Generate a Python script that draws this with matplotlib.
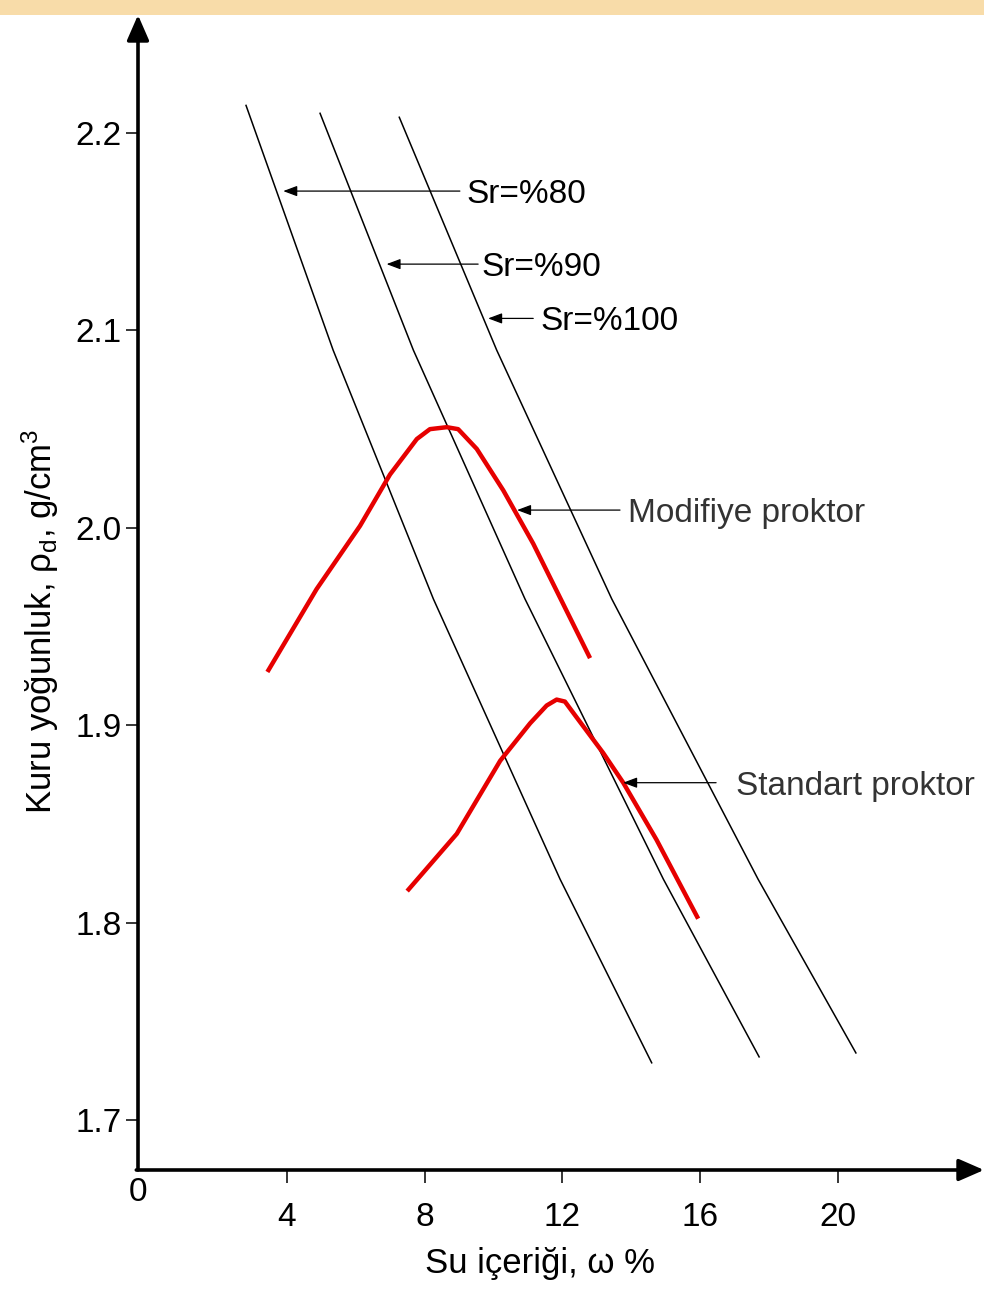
import matplotlib
matplotlib.use("Agg")
import matplotlib.pyplot as plt
from matplotlib.patches import Rectangle

plt.rcParams["font.family"] = ["Liberation Sans", "DejaVu Sans"]
plt.rcParams["mathtext.fontset"] = "custom"
plt.rcParams["mathtext.rm"] = "Liberation Sans"
plt.rcParams["mathtext.it"] = "Liberation Sans:italic"
plt.rcParams["mathtext.bf"] = "Liberation Sans:bold"

# doygunluk çizgileri (Sr = %80, %90, %100)
sr80_w = [2.81, 5.34, 8.25, 11.93, 14.59]
sr80_rho = [2.214, 2.090, 1.964, 1.822, 1.729]
sr90_w = [4.96, 7.67, 10.91, 14.93, 17.71]
sr90_rho = [2.210, 2.090, 1.964, 1.822, 1.732]
sr100_w = [7.26, 10.09, 13.43, 17.68, 20.52]
sr100_rho = [2.208, 2.090, 1.964, 1.822, 1.734]

# kompaksiyon eğrileri
mod_w = [3.43, 4.86, 6.12, 6.99, 7.77, 8.15, 8.64, 8.97, 9.51, 10.28, 11.15, 12.80]
mod_rho = [1.927, 1.969, 2.001, 2.027, 2.045, 2.050, 2.051, 2.050, 2.040, 2.019, 1.992, 1.934]
std_w = [7.49, 8.93, 10.19, 11.06, 11.54, 11.83, 12.07, 12.41, 13.18, 13.76, 14.73, 15.94]
std_rho = [1.816, 1.845, 1.882, 1.901, 1.910, 1.913, 1.912, 1.904, 1.886, 1.871, 1.842, 1.802]

x_ticks = [4, 8, 12, 16, 20]
y_ticks = [1.7, 1.8, 1.9, 2.0, 2.1, 2.2]
y_tick_labels = ["1.7", "1.8", "1.9", "2.0", "2.1", "2.2"]

W, H = 984, 1289
fig = plt.figure(figsize=(W / 100, H / 100), dpi=100)
fig.patch.set_facecolor("white")

# üstteki bej şerit
fig.patches.append(Rectangle((0, 1 - 15 / H), 1, 15 / H, transform=fig.transFigure,
                             facecolor="#f8dca9", edgecolor="none", zorder=0))

ax = fig.add_axes([138 / W, (H - 1170) / H, (W - 138) / W, (1170 - 15) / H])
ax.set_xlim(-0.327, 24.24)
ax.set_ylim(1.6747, 2.2598)
for s in ax.spines.values():
    s.set_visible(False)

# eksen okları
arr = dict(arrowstyle="-|>,head_length=0.55,head_width=0.24", mutation_scale=28,
           color="black", lw=2.6, shrinkA=0, shrinkB=0)
ax.annotate("", xy=(0, 1), xytext=(0, 0), xycoords="axes fraction",
            textcoords="axes fraction", arrowprops=arr, annotation_clip=False)
ax.annotate("", xy=(1, 0), xytext=(-0.002, 0), xycoords="axes fraction",
            textcoords="axes fraction", arrowprops=arr, annotation_clip=False)

ax.set_xticks(x_ticks)
ax.set_xticklabels([str(t) for t in x_ticks])
ax.set_yticks(y_ticks)
ax.set_yticklabels(y_tick_labels)
ax.tick_params(axis="x", direction="out", length=9, width=1.1, pad=14, labelsize=24)
ax.tick_params(axis="y", direction="out", length=9, width=1.1, pad=3, labelsize=24)
ax.text(-0.327, 1.6635, "0", ha="center", va="center", fontsize=24, clip_on=False)

for w, r in [(sr80_w, sr80_rho), (sr90_w, sr90_rho), (sr100_w, sr100_rho)]:
    ax.plot(w, r, color="black", lw=1.1, solid_joinstyle="round")

red = "#e60000"
ax.plot(mod_w, mod_rho, color=red, lw=3.2, solid_joinstyle="round", solid_capstyle="butt")
ax.plot(std_w, std_rho, color=red, lw=3.2, solid_joinstyle="round", solid_capstyle="butt")

small = dict(arrowstyle="-|>,head_length=0.4,head_width=0.15", mutation_scale=21,
             color="black", lw=0.9, shrinkA=0, shrinkB=0)
notes = [
    ((3.89, 2.1706), 9.02, 9.22, "Sr=%80", "black"),
    ((6.89, 2.1336), 9.55, 9.65, "Sr=%90", "black"),
    ((9.84, 2.1061), 11.15, 11.35, "Sr=%100", "black"),
    ((10.68, 2.009), 13.67, 13.90, "Modifiye proktor", "#333333"),
    ((13.76, 1.8709), 16.46, 17.03, "Standart proktor", "#333333"),
]
for tip, tail_x, text_x, label, col in notes:
    ax.annotate("", xy=tip, xytext=(tail_x, tip[1]), arrowprops=small)
    ax.text(text_x, tip[1], label, ha="left", va="center_baseline", fontsize=24, color=col)

fig.text(540 / W, 1 - 1264 / H, "Su içeriği, ω %", ha="center", va="center", fontsize=25)
fig.text(40 / W, 1 - 621 / H, "Kuru yoğunluk, $\\mathrm{\\rho_d}$, g/cm$^3$",
         rotation=90, ha="center", va="center", fontsize=25)

fig.savefig("out.png", dpi=100)
